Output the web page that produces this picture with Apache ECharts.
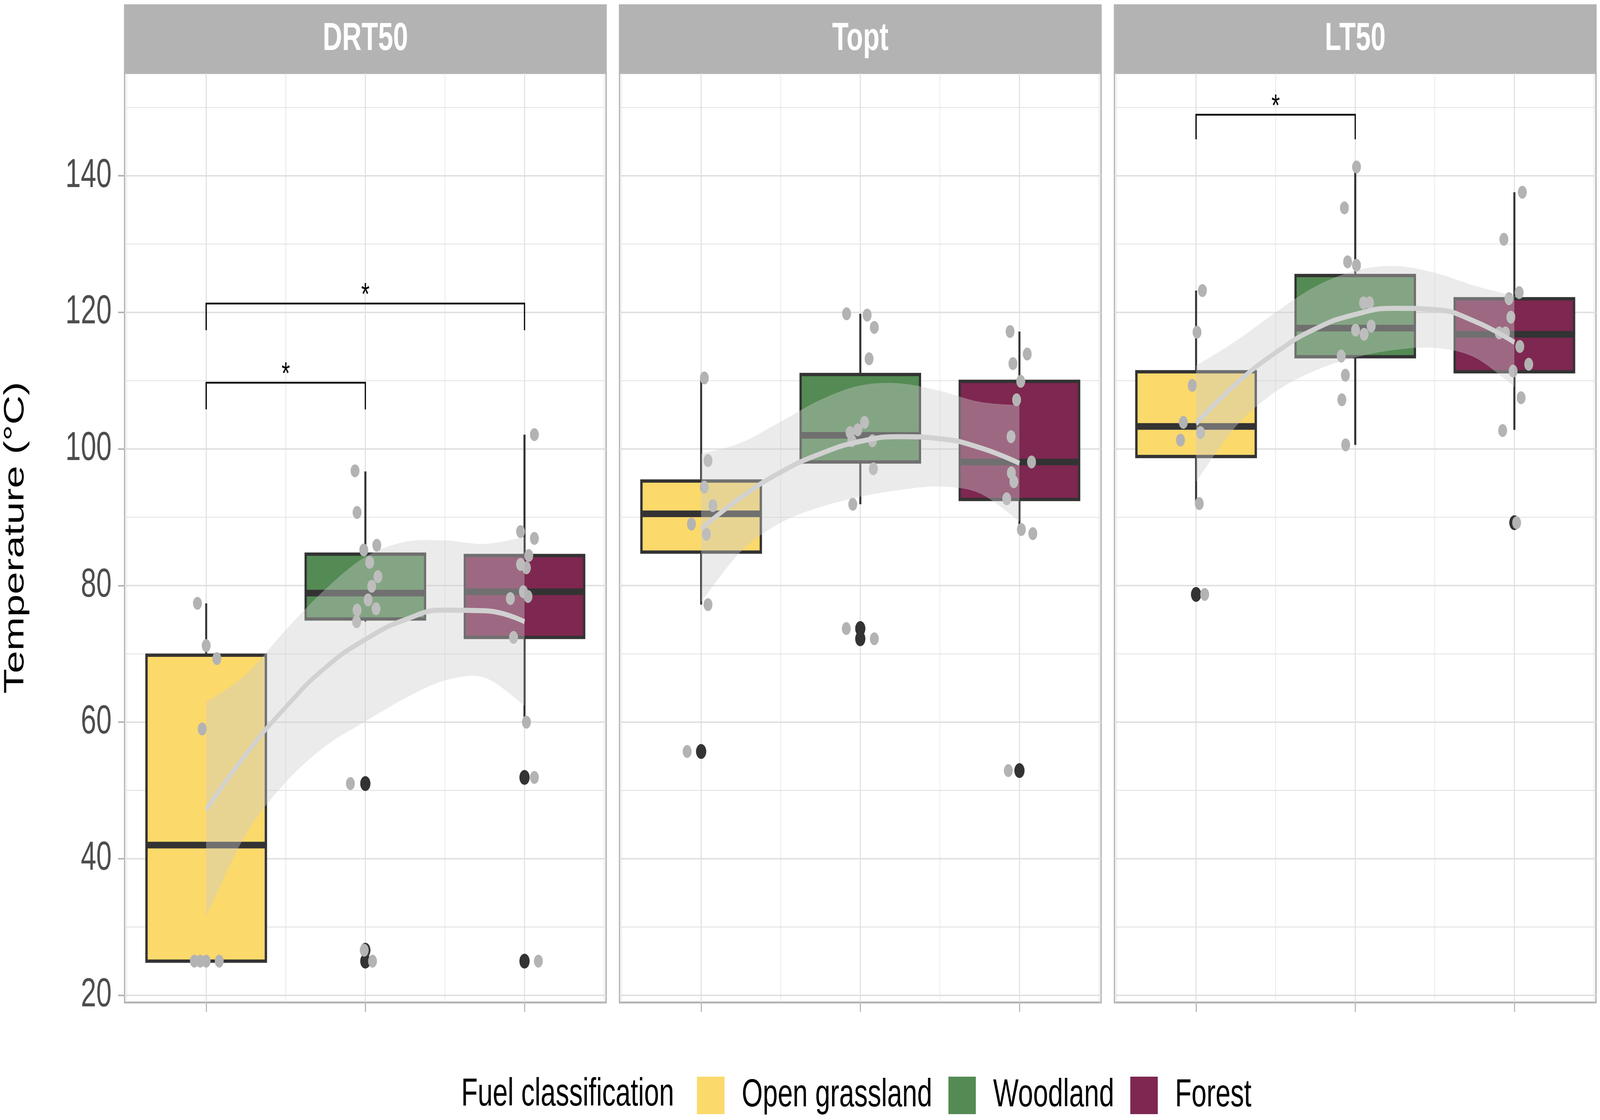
<!DOCTYPE html>
<html>
<head>
<meta charset="utf-8">
<script src="https://cdn.jsdelivr.net/npm/echarts@6/dist/echarts.min.js"></script>
<style>
html,body{margin:0;padding:0;background:#ffffff;overflow:hidden;}
#chart{position:absolute;left:0;top:0;width:5932px;height:2868px;transform-origin:0 0;}
</style>
</head>
<body>
<div id="chart"></div>
<script>
// ---------------- data ----------------
const panels = ['DRT50', 'Topt', 'LT50'];
const categories = ['Open grassland', 'Woodland', 'Forest'];
const categoryX = [1, 2, 3];
const yTickLabels = [20, 40, 60, 80, 100, 120, 140];
const yMinorBreaks = [30, 50, 70, 90, 110, 130, 150];
const xMajorBreaks = [1, 2, 3];
const xMinorBreaks = [0.5, 1.5, 2.5, 3.5];

// box statistics: [lower whisker, Q1, median, Q3, upper whisker]
const drt50Box = [[25.0, 25.0, 42.0, 69.8, 77.4], [74.7, 75.1, 78.9, 84.6, 96.7], [60.0, 72.4, 79.1, 84.4, 102.1]];
const toptBox  = [[77.2, 84.9, 90.5, 95.3, 110.4], [91.9, 98.1, 102.0, 110.9, 119.8], [87.6, 92.6, 98.1, 109.9, 117.2]];
const lt50Box  = [[92.0, 98.9, 103.3, 111.3, 123.2], [100.6, 113.5, 117.7, 125.4, 141.3], [102.8, 111.3, 116.8, 122.0, 137.6]];

// boxplot outliers: [x, value]
const drt50Outliers = [[2, 51.0], [2, 26.6], [2, 25.0], [3, 51.9], [3, 25.0]];
const toptOutliers  = [[1, 55.7], [2, 73.7], [2, 72.2], [3, 52.9]];
const lt50Outliers  = [[1, 78.7], [3, 89.2]];

// jittered observations: [x, value]
const drt50Points = [
  [0.945, 77.4], [1.000, 71.2], [1.067, 69.3], [0.975, 59.0], [0.926, 25.0], [0.963, 25.0], [1.000, 25.0], [1.082, 25.0],
  [1.935, 96.8], [1.948, 90.7], [2.072, 85.9], [1.990, 85.2], [2.027, 83.4], [2.079, 81.3], [2.040, 79.9], [2.017, 77.9],
  [1.948, 76.4], [2.067, 76.6], [1.945, 74.7], [1.906, 51.0], [1.993, 26.6], [2.045, 25.0],
  [3.062, 102.1], [2.975, 87.9], [3.062, 86.9], [3.027, 84.4], [2.975, 83.1], [3.012, 82.6], [2.993, 79.1], [3.022, 78.4],
  [2.911, 78.1], [2.931, 72.4], [3.012, 60.0], [3.062, 51.9], [3.087, 25.0]
];
const toptPoints = [
  [1.020, 110.4], [1.043, 98.3], [1.020, 94.4], [1.074, 91.7], [0.939, 89.0], [1.033, 87.5], [1.043, 77.2], [0.912, 55.7],
  [1.914, 119.8], [2.043, 119.6], [2.088, 117.8], [2.055, 113.2], [2.027, 103.9], [1.984, 102.8], [1.936, 102.4], [1.947, 101.2],
  [2.076, 101.2], [2.082, 97.1], [1.953, 91.9], [1.912, 73.7], [2.088, 72.2],
  [2.941, 117.2], [3.049, 113.9], [2.959, 112.5], [3.008, 109.9], [2.982, 107.2], [2.947, 101.8], [3.076, 98.1], [2.949, 96.5],
  [2.965, 95.2], [2.920, 92.7], [3.012, 88.2], [3.084, 87.6], [2.930, 52.9]
];
const lt50Points = [
  [1.040, 123.2], [1.006, 117.1], [0.976, 109.3], [0.920, 103.9], [1.028, 102.4], [0.902, 101.3], [1.020, 92.0], [1.054, 78.7],
  [2.008, 141.3], [1.932, 135.3], [1.952, 127.4], [2.008, 126.9], [2.052, 121.4], [2.090, 121.4], [2.100, 118.0], [2.002, 117.4],
  [2.056, 116.8], [1.912, 113.6], [1.938, 110.8], [1.916, 107.2], [1.940, 100.6],
  [3.050, 137.6], [2.934, 130.7], [3.030, 122.9], [2.966, 122.0], [2.978, 119.3], [2.905, 117.0], [2.944, 117.0], [3.034, 115.0],
  [3.090, 112.4], [2.992, 111.4], [3.042, 107.5], [2.926, 102.7], [3.014, 89.2]
];

// smooth trend with confidence band, read at these x positions
const smoothX = [1, 1.25, 1.5, 1.75, 2, 2.25, 2.5, 2.75, 3];
const drt50Fit = [47.2, 55.3, 62.2, 68.0, 72.1, 75.0, 76.4, 76.3, 74.7];
const drt50Hi  = [62.9, 67.0, 73.5, 79.5, 84.2, 86.4, 86.6, 86.1, 87.1];
const drt50Lo  = [31.6, 43.6, 51.2, 56.5, 60.1, 63.5, 66.1, 66.5, 62.4];
const toptFit  = [88.3, 92.9, 96.6, 99.3, 101.1, 101.8, 101.5, 100.2, 97.9];
const toptHi   = [99.3, 100.9, 104.0, 107.2, 109.3, 109.6, 108.5, 106.9, 106.4];
const toptLo   = [77.6, 85.0, 89.2, 91.5, 93.0, 94.0, 94.5, 93.5, 89.4];
const lt50Fit  = [103.7, 109.5, 114.1, 117.6, 119.7, 120.6, 120.4, 118.7, 115.6];
const lt50Hi   = [112.2, 115.8, 120.0, 123.8, 126.1, 126.8, 125.8, 123.9, 122.4];
const lt50Lo   = [95.2, 103.3, 108.4, 111.5, 113.4, 114.5, 114.8, 113.4, 109.1];

// significance brackets: [from x, to x, bracket level, tip end level]
const drt50Brackets = [[1, 3, 121.3, 117.4], [1, 2, 109.7, 105.8]];
const toptBrackets  = [];
const lt50Brackets  = [[1, 2, 148.95, 145.35]];
const bracketLabel = '*';

// ---------------- layout & style ----------------
const FONT = '"Liberation Sans", Arial, Helvetica, sans-serif';
const CAT_COLORS = ['#FBD96B', '#548B54', '#7E2750'];
const PANEL_LEFTS = [462, 2297, 4132];
const PANEL_TOP = 187, PANEL_W = 1785, PANEL_H = 2380;
const STRIP_TOP = 11, STRIP_H = 176;
const X_MIN = 0.4875, X_MAX = 3.5125, Y_MIN = 18.95, Y_MAX = 155.05;
const BOX_HALF = 0.375;
const GRID_COLOR = '#DEDEDE', BORDER_COLOR = '#B3B3B3';
const DESIGN_W = 5932, DESIGN_H = 2868;

const boxes = [drt50Box, toptBox, lt50Box];
const outliers = [drt50Outliers, toptOutliers, lt50Outliers];
const points = [drt50Points, toptPoints, lt50Points];
const fits = [drt50Fit, toptFit, lt50Fit];
const his = [drt50Hi, toptHi, lt50Hi];
const los = [drt50Lo, toptLo, lt50Lo];
const brackets = [drt50Brackets, toptBrackets, lt50Brackets];

const gridRows = []
  .concat(yTickLabels.map(v => [0, v, 1]))
  .concat(yMinorBreaks.map(v => [0, v, 0]))
  .concat(xMajorBreaks.map(v => [1, v, 1]))
  .concat(xMinorBreaks.map(v => [1, v, 0]));

function renderGrid(params, api) {
  const cs = params.coordSys;
  const o = api.value(0), v = api.value(1), major = api.value(2);
  const style = { stroke: GRID_COLOR, lineWidth: major ? 3.5 : 1.8 };
  if (o === 0) {
    const p = api.coord([X_MIN, v]);
    return { type: 'line', shape: { x1: cs.x, y1: p[1], x2: cs.x + cs.width, y2: p[1] }, style: style, silent: true };
  }
  const p = api.coord([v, Y_MIN]);
  return { type: 'line', shape: { x1: p[0], y1: cs.y, x2: p[0], y2: cs.y + cs.height }, style: style, silent: true };
}

function renderBox(params, api) {
  const x = api.value(0), lo = api.value(1), q1 = api.value(2), med = api.value(3), q3 = api.value(4), hi = api.value(5);
  const tl = api.coord([x - BOX_HALF, q3]), br = api.coord([x + BOX_HALF, q1]);
  const pLo = api.coord([x, lo]), pQ1 = api.coord([x, q1]), pQ3 = api.coord([x, q3]), pHi = api.coord([x, hi]);
  const mL = api.coord([x - BOX_HALF, med]), mR = api.coord([x + BOX_HALF, med]);
  const color = api.visual('color');
  return {
    type: 'group',
    children: [
      { type: 'line', shape: { x1: pQ3[0], y1: pQ3[1], x2: pHi[0], y2: pHi[1] }, style: { stroke: '#333333', lineWidth: 7.5 } },
      { type: 'line', shape: { x1: pLo[0], y1: pLo[1], x2: pQ1[0], y2: pQ1[1] }, style: { stroke: '#333333', lineWidth: 7.5 } },
      { type: 'rect', shape: { x: tl[0], y: tl[1], width: br[0] - tl[0], height: br[1] - tl[1] }, style: { fill: color, stroke: '#333333', lineWidth: 8.5 } },
      { type: 'line', shape: { x1: mL[0], y1: mL[1], x2: mR[0], y2: mR[1] }, style: { stroke: '#333333', lineWidth: 17 } }
    ]
  };
}

function spline(pts, steps) {
  const out = [];
  const n = pts.length;
  for (let i = 0; i < n - 1; i++) {
    const p0 = pts[Math.max(i - 1, 0)], p1 = pts[i], p2 = pts[i + 1], p3 = pts[Math.min(i + 2, n - 1)];
    for (let s = 0; s < steps; s++) {
      const t = s / steps, t2 = t * t, t3 = t2 * t;
      const c = [0, 1].map(k => 0.5 * ((2 * p1[k]) + (-p0[k] + p2[k]) * t +
        (2 * p0[k] - 5 * p1[k] + 4 * p2[k] - p3[k]) * t2 + (-p0[k] + 3 * p1[k] - 3 * p2[k] + p3[k]) * t3));
      out.push(c);
    }
  }
  out.push(pts[n - 1]);
  return out;
}

function renderRibbon(params, api) {
  if (params.dataIndexInside !== 0) return null;
  const n = params.dataInsideLength;
  const up = [], dn = [];
  for (let i = 0; i < n; i++) {
    up.push(api.coord([api.value(0, i), api.value(2, i)]));
    dn.push(api.coord([api.value(0, i), api.value(1, i)]));
  }
  const pts = spline(up, 14).concat(spline(dn, 14).reverse());
  return { type: 'polygon', shape: { points: pts }, style: { fill: 'rgba(204,204,204,0.4)' }, silent: true };
}

function renderBracket(params, api) {
  const x1 = api.value(0), x2 = api.value(1), y = api.value(2), yt = api.value(3);
  const a = api.coord([x1, yt]), b = api.coord([x1, y]), c = api.coord([x2, y]), d = api.coord([x2, yt]);
  return {
    type: 'group',
    children: [
      { type: 'polyline', shape: { points: [a, b, c, d] }, style: { stroke: '#000000', lineWidth: 4.5, fill: null } },
      { type: 'text', x: (b[0] + c[0]) / 2, y: b[1] - 19,
        style: { text: bracketLabel, fill: '#000000', font: '80px ' + FONT, align: 'center', verticalAlign: 'middle' } }
    ]
  };
}

const grids = panels.map((p, i) => ({
  left: PANEL_LEFTS[i], top: PANEL_TOP, width: PANEL_W, height: PANEL_H,
  show: true, backgroundColor: '#ffffff', borderColor: BORDER_COLOR, borderWidth: 5,
  containLabel: false, outerBoundsMode: 'none'
}));

const xAxes = panels.map((p, i) => ({
  gridIndex: i, type: 'value', min: X_MIN, max: X_MAX,
  axisLine: { show: false },
  axisTick: { show: true, customValues: xMajorBreaks, length: 24, lineStyle: { color: BORDER_COLOR, width: 4 } },
  axisLabel: { show: false },
  splitLine: { show: false }
}));

const yAxes = panels.map((p, i) => {
  const ax = {
    gridIndex: i, type: 'value', min: Y_MIN, max: Y_MAX,
    axisLine: { show: false },
    splitLine: { show: false },
    axisTick: { show: i === 0, customValues: yTickLabels, length: 24, lineStyle: { color: BORDER_COLOR, width: 4 } },
    axisLabel: { show: i === 0, customValues: yTickLabels, fontSize: 103, color: '#4D4D4D', margin: 48, fontFamily: FONT }
  };
  if (i === 0) {
    ax.name = 'Temperature (°C)';
    ax.nameLocation = 'middle';
    ax.nameRotate = 90;
    ax.nameGap = 352;
    ax.nameTextStyle = { fontSize: 104, color: '#000000', fontFamily: FONT };
  }
  return ax;
});

const series = [];
panels.forEach((p, i) => {
  series.push({
    type: 'custom', name: 'grid-' + p, xAxisIndex: i, yAxisIndex: i, data: gridRows,
    renderItem: renderGrid, silent: true, z: 1, tooltip: { show: false }
  });
  categories.forEach((c, j) => {
    series.push({
      type: 'custom', name: c, xAxisIndex: i, yAxisIndex: i,
      data: [[categoryX[j]].concat(boxes[i][j])],
      encode: { x: 0, y: [1, 2, 3, 4, 5] },
      renderItem: renderBox, itemStyle: { color: CAT_COLORS[j] }, silent: true, z: 2
    });
  });
  series.push({
    type: 'scatter', name: 'outliers-' + p, xAxisIndex: i, yAxisIndex: i, data: outliers[i],
    symbol: 'circle', symbolSize: 38, itemStyle: { color: '#333333', opacity: 1 }, silent: true, z: 3
  });
  series.push({
    type: 'scatter', name: 'points-' + p, xAxisIndex: i, yAxisIndex: i, data: points[i],
    symbol: 'circle', symbolSize: 33, itemStyle: { color: '#B3B3B3', opacity: 1 }, silent: true, z: 4
  });
  series.push({
    type: 'custom', name: 'band-' + p, xAxisIndex: i, yAxisIndex: i,
    data: smoothX.map((x, k) => [x, los[i][k], his[i][k]]),
    encode: { x: 0, y: [1, 2] },
    renderItem: renderRibbon, silent: true, z: 5
  });
  series.push({
    type: 'line', name: 'trend-' + p, xAxisIndex: i, yAxisIndex: i,
    data: smoothX.map((x, k) => [x, fits[i][k]]),
    smooth: true, symbol: 'none', showSymbol: false,
    lineStyle: { color: '#D1D1D1', width: 13, cap: 'butt' }, silent: true, z: 6
  });
  series.push({
    type: 'custom', name: 'signif-' + p, xAxisIndex: i, yAxisIndex: i,
    data: brackets[i], renderItem: renderBracket, silent: true, z: 7
  });
});

const graphic = [];
panels.forEach((p, i) => {
  graphic.push({
    type: 'rect', shape: { x: PANEL_LEFTS[i] - 2.5, y: STRIP_TOP, width: PANEL_W + 5, height: STRIP_H },
    style: { fill: BORDER_COLOR }, silent: true
  });
  graphic.push({
    type: 'text', x: PANEL_LEFTS[i] + PANEL_W / 2, y: STRIP_TOP + STRIP_H / 2 + 1,
    style: { text: p, fill: '#ffffff', font: 'bold 100px ' + FONT, align: 'center', verticalAlign: 'middle',
             textAlign: 'center', textVerticalAlign: 'middle' },
    silent: true
  });
});
graphic.push({
  type: 'text', x: 1710, y: 2803,
  style: { text: 'Fuel classification', fill: '#000000', font: '100px ' + FONT, align: 'left', verticalAlign: 'middle',
           textAlign: 'left', textVerticalAlign: 'middle' },
  silent: true
});

// The chart is laid out for a 5932 x 2868 page; if the real viewport differs, fit it by a CSS scale.
const el = document.getElementById('chart');
const vw = window.innerWidth || DESIGN_W, vh = window.innerHeight || DESIGN_H;
const sx = vw / DESIGN_W, sy = vh / DESIGN_H;
if (Math.abs(sx - 1) > 0.001 || Math.abs(sy - 1) > 0.001) {
  el.style.transform = 'scale(' + sx + ',' + sy + ')';
}

const chart = echarts.init(el, null, { renderer: 'canvas', width: DESIGN_W, height: DESIGN_H });
chart.setOption({
  animation: false,
  backgroundColor: '#ffffff',
  textStyle: { fontFamily: FONT },
  grid: grids,
  xAxis: xAxes,
  yAxis: yAxes,
  legend: {
    left: 2584, top: 2755, orient: 'horizontal', padding: 0,
    itemWidth: 102, itemHeight: 96, itemGap: 60,
    selectedMode: false,
    data: categories.map((c, j) => ({ name: c, icon: 'rect', itemStyle: { color: CAT_COLORS[j], borderWidth: 0 } })),
    textStyle: { fontSize: 100, color: '#000000', fontFamily: FONT, padding: [0, 0, 0, 59] }
  },
  graphic: graphic,
  series: series
});
</script>
</body>
</html>
